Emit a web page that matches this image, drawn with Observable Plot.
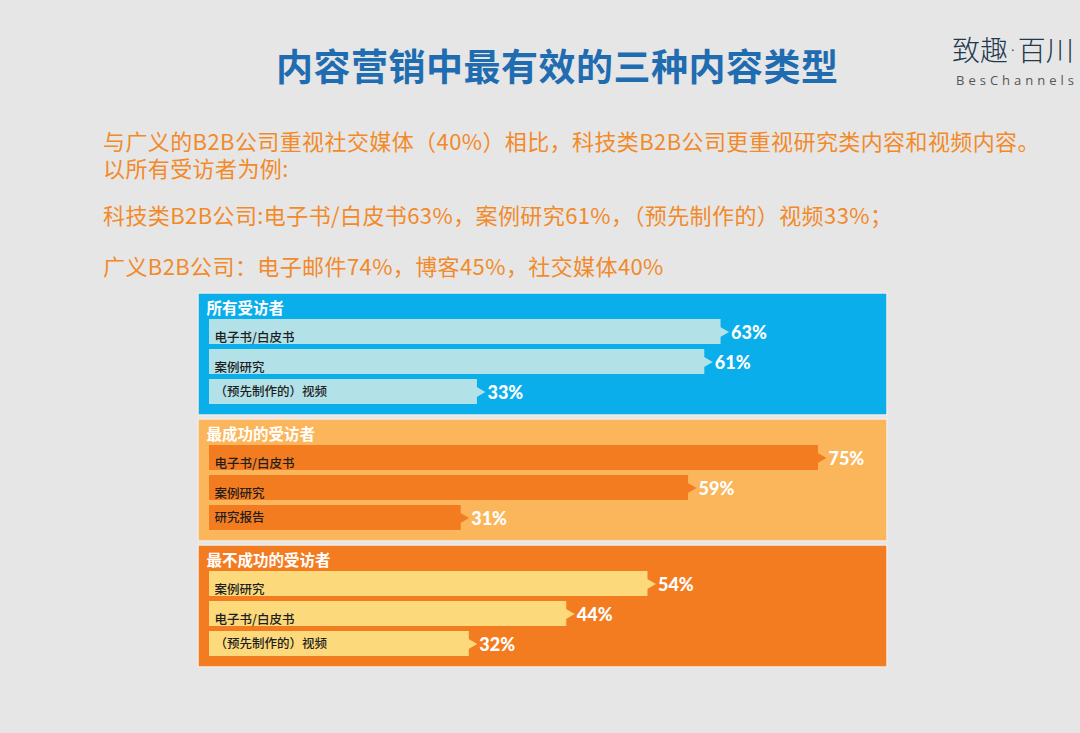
<!DOCTYPE html>
<html><head><meta charset="utf-8">
<script src="https://cdn.jsdelivr.net/npm/d3@7"></script>
<script src="https://cdn.jsdelivr.net/npm/@observablehq/plot@0.6"></script>
<style>
html,body{margin:0;padding:0;background:#e6e6e6;}
#page{position:relative;width:1080px;height:733px;overflow:hidden;font-family:'Noto Sans CJK SC',sans-serif;background:#e6e6e6;}
#header{position:relative;height:292px;}
.t{position:absolute;white-space:nowrap;margin:0;}
.title{left:276px;top:47px;font-size:37px;line-height:37px;font-weight:700;color:#1f6cb0;letter-spacing:0.5px;}
.logo{left:952px;top:35px;font-size:28px;line-height:28px;font-weight:300;color:#22384d;}
.logo .dot{font-family:'DejaVu Sans',sans-serif;font-size:24px;margin:0 1px;position:relative;top:-2px;}
.logo2{left:956px;top:74px;font-size:13px;line-height:13px;color:#555;letter-spacing:4px;font-family:'Open Sans','DejaVu Sans',sans-serif;}
.sub{left:103px;font-size:22px;line-height:22px;color:#f28a2a;font-weight:400;letter-spacing:0.4px;}
#chart{position:relative;}
</style></head><body>
<div id="page">
  <div id="header">
    <div class="t title" id="title"></div>
    <div class="t logo">致趣<span class="dot">·</span>百川</div>
    <div class="t logo2">BesChannels</div>
    <div class="t sub" id="s1" style="top:129px"></div>
    <div class="t sub" id="s2" style="top:156px"></div>
    <div class="t sub" id="s3" style="top:203px"></div>
    <div class="t sub" id="s4" style="top:254px"></div>
  </div>
  <div id="chart"></div>
</div>
<script>
const titleText = "内容营销中最有效的三种内容类型";
const subtitleLines = [
  "与广义的B2B公司重视社交媒体（40%）相比，科技类B2B公司更重视研究类内容和视频内容。",
  "以所有受访者为例:",
  "科技类B2B公司:电子书/白皮书63%，案例研究61%，（预先制作的）视频33%；",
  "广义B2B公司：电子邮件74%，博客45%，社交媒体40%"
];
const groups = ["所有受访者", "最成功的受访者", "最不成功的受访者"];
const panelColors = ["#0aaeea", "#fbb65b", "#f47c20"];
const barColors = ["#b2e1e8", "#f47c20", "#fcd97a"];
const ranks = [1, 2, 3];
const labels = [
  ["电子书/白皮书", "案例研究", "（预先制作的）视频"],
  ["电子书/白皮书", "案例研究", "研究报告"],
  ["案例研究", "电子书/白皮书", "（预先制作的）视频"]
];
const values = [
  [63, 61, 33],
  [75, 59, 31],
  [54, 44, 32]
];

document.getElementById("title").textContent = titleText;
subtitleLines.forEach((s, i) => document.getElementById("s" + (i + 1)).textContent = s);

const panels = groups.map((g, i) => ({group: g, fill: panelColors[i]}));
const rows = groups.flatMap((g, i) => ranks.map((r, j) => ({
  group: g, rank: r, label: labels[i][j], value: values[i][j], fill: barColors[i]
})));

const chart = Plot.plot({
  width: 1080,
  height: 441,
  marginTop: 0,
  marginBottom: 64,
  marginLeft: 198,
  marginRight: 193,
  style: {background: "transparent", fontFamily: "'Noto Sans CJK SC', sans-serif", overflow: "visible"},
  x: {domain: [0, 83.5], insetLeft: 11, axis: null},
  y: {domain: ranks, paddingInner: 0.17, paddingOuter: 0, insetTop: 26, insetBottom: 11, axis: null},
  fy: {domain: groups, paddingInner: 0.03, paddingOuter: 0, axis: null},
  color: {type: "identity"},
  marks: [
    Plot.rect(panels, {fy: "group", fill: "fill", stroke: "#f1ece7", strokeWidth: 1.5}),
    Plot.text(panels, {fy: "group", text: "group", frameAnchor: "top-left", dx: 8, dy: 16, lineAnchor: "middle", fill: "white", fontSize: 15.5, fontWeight: "bold"}),
    Plot.barX(rows, {fy: "group", y: "rank", x: "value", fill: "fill"}),
    Plot.dot(rows, {fy: "group", y: "rank", x: "value", symbol: "triangle", rotate: 90, r: 4.5, fill: "fill", dx: 1}),
    Plot.text(rows, {filter: d => d.rank < 3, fy: "group", y: "rank", text: "label", frameAnchor: "left", textAnchor: "start", dx: 16, dy: 6, fill: "#1e1e1e", fontSize: 12.5, fontWeight: 500}),
    Plot.text(rows, {filter: d => d.rank === 3, fy: "group", y: "rank", text: "label", frameAnchor: "left", textAnchor: "start", dx: 16, dy: 0, fill: "#1e1e1e", fontSize: 12.5, fontWeight: 500}),
    Plot.text(rows, {fy: "group", y: "rank", x: "value", text: d => d.value + "%", textAnchor: "start", dx: 10, dy: 1, fill: "white", fontSize: 18, fontWeight: 900, letterSpacing: 0.6, fontFamily: "Lato, 'DejaVu Sans', sans-serif"})
  ]
});
document.getElementById("chart").appendChild(chart);
</script>
</body></html>
